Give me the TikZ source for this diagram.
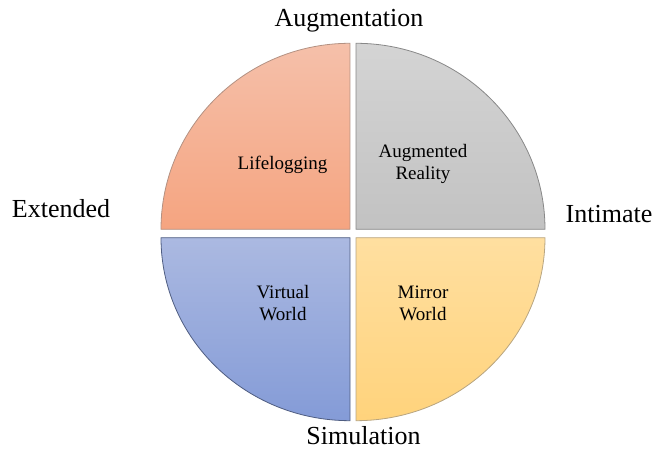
\documentclass[tikz,border=0pt]{standalone}
\usepackage{fontspec}
\setmainfont{Liberation Serif}
\begin{document}
\begin{tikzpicture}[x=1pt,y=1pt,
  quarter/.style={line width=0.8pt},
  axislabel/.style={font=\fontsize{26}{30}\selectfont, inner sep=0pt, anchor=base},
  sectorlabel/.style={font=\fontsize{19}{22}\selectfont, inner sep=0pt, align=center}]
\useasboundingbox (0,0) rectangle (654,449);

\definecolor{lifeTop}{RGB}{245,192,170}
\definecolor{lifeBot}{RGB}{245,164,128}
\definecolor{arTop}{RGB}{212,212,212}
\definecolor{arBot}{RGB}{194,194,194}
\definecolor{vwTop}{RGB}{171,185,225}
\definecolor{vwBot}{RGB}{132,155,215}
\definecolor{mwTop}{RGB}{255,223,160}
\definecolor{mwBot}{RGB}{255,211,124}

% four quarter discs separated by thin gaps
\path[quarter, draw=lifeBot!60!black!70, top color=lifeTop, bottom color=lifeBot]
  (350,219.7) -- ++(-189,0) arc[start angle=180, end angle=90, x radius=189, y radius=186] -- cycle;
\path[quarter, draw=arBot!70!black, top color=arTop, bottom color=arBot]
  (356,219.7) -- ++(189,0) arc[start angle=0, end angle=90, x radius=189, y radius=186] -- cycle;
\path[quarter, draw=vwBot!60!black, top color=vwTop, bottom color=vwBot]
  (350,211.3) -- ++(-189,0) arc[start angle=180, end angle=270, x radius=189, y radius=183] -- cycle;
\path[quarter, draw=mwBot!60!black!70, top color=mwTop, bottom color=mwBot]
  (356,211.3) -- ++(189,0) arc[start angle=0, end angle=-90, x radius=189, y radius=183] -- cycle;

% sector names
\node[sectorlabel, anchor=base] (life) at (282.5,279) {Lifelogging};
\node[sectorlabel] (ar) at (423,285) {Augmented\\Reality};
\node[sectorlabel] (vw) at (283,146) {Virtual\\World};
\node[sectorlabel] (mw) at (423,146) {Mirror\\World};

% axis names
\node[axislabel] (aug) at (349,422) {Augmentation};
\node[axislabel] (ext) at (61,231) {Extended};
\node[axislabel] (int) at (609,226) {Intimate};
\node[axislabel] (sim) at (363.5,4.5) {Simulation};
\end{tikzpicture}
\end{document}
